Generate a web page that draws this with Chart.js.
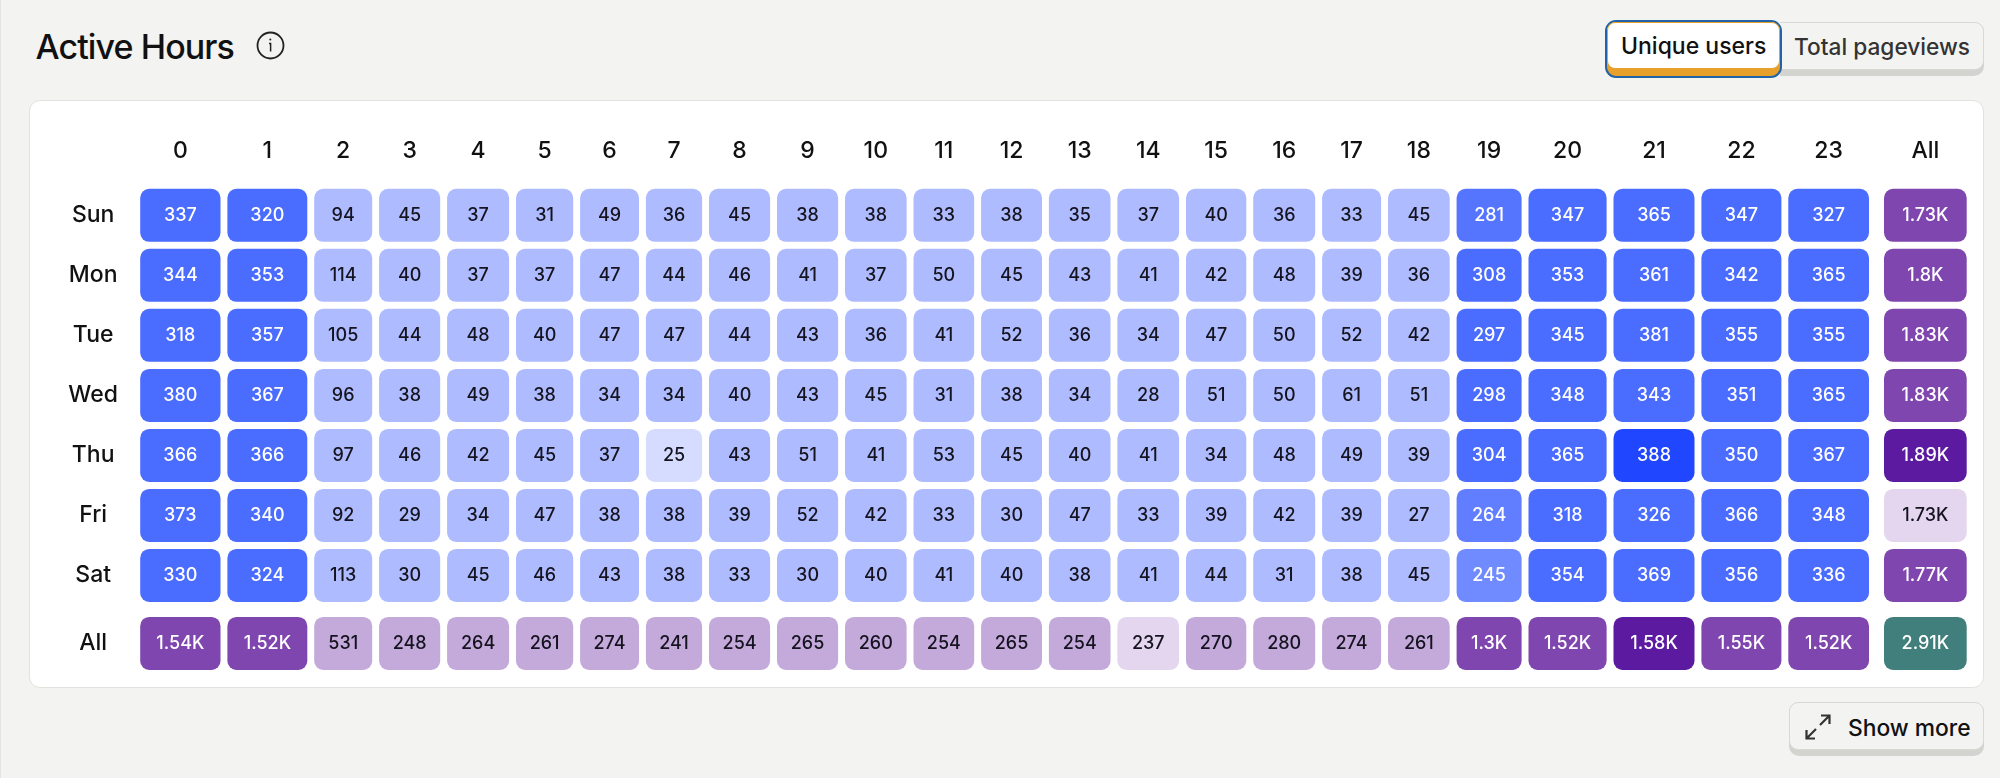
<!DOCTYPE html>
<html>
<head>
<meta charset="utf-8">
<title>Active Hours</title>
<script src="https://cdn.jsdelivr.net/npm/chart.js@4/dist/chart.umd.js"></script>
<style>
  html, body { margin: 0; padding: 0; width: 2000px; height: 778px; overflow: hidden; background: #f3f3f1; font-family: Inter, sans-serif; color: #111; }
  #edge { position: absolute; left: 0; top: 0; width: 1px; height: 778px; background: #e4e4e2; }
  #title { position: absolute; left: 35.5px; top: 25px; font-size: 34px; line-height: 44px; font-weight: 500; letter-spacing: -0.9px; }
  #info { position: absolute; left: 256px; top: 31px; }
  #card { position: absolute; left: 29px; top: 100px; width: 1955px; height: 588px; background: #fff; border: 1px solid #e2e2de; border-radius: 11px; box-sizing: border-box; }
  #chart { position: absolute; left: 30px; top: 100px; }
  .btn { position: absolute; box-sizing: border-box; }
  .btn .face { box-sizing: border-box; height: 48px; display: flex; align-items: center; font-size: 23px; font-weight: 500; }
  #unique { left: 1605px; top: 20px; width: 177px; height: 58px; border: 2px solid #2263a8; border-radius: 11px; background: #e7a02c; z-index: 2; }
  #unique .face { background: #fff; border: 1px solid #e7a02c; border-radius: 8px; height: 47px; padding-left: 13px; }
  #pageviews { left: 1780px; top: 22px; width: 204px; height: 54px; background: #d3d3d0; border-radius: 0 10px 10px 0; }
  #pageviews .face { background: #f3f3f1; border: 1px solid #d8d8d5; border-left: 0; border-radius: 0 9px 9px 0; padding-left: 14px; color: #333; font-size: 22.7px; }
  #more { left: 1789px; top: 702px; width: 195px; height: 54px; background: #d3d3d0; border-radius: 10px; }
  #more .face { background: #f3f3f1; border: 1px solid #d8d8d5; border-radius: 9px; padding-left: 58px; font-size: 22.8px; padding-top: 2px; }
  #more svg { position: absolute; left: 15px; top: 11px; }
</style>
</head>
<body>
<div id="edge"></div>
<div id="title">Active Hours</div>
<svg id="info" width="29" height="29" viewBox="0 0 29 29" fill="none" stroke="#222">
  <circle cx="14.5" cy="14.5" r="13" stroke-width="1.8"/>
  <path d="M13 12.5h1.6v8" stroke-width="1.5"/>
  <circle cx="14.3" cy="8.6" r="1" fill="#222" stroke="none"/>
</svg>
<div id="card"></div>
<canvas id="chart" width="1954" height="615"></canvas>
<div class="btn" id="unique"><div class="face">Unique users</div></div>
<div class="btn" id="pageviews"><div class="face">Total pageviews</div></div>
<div class="btn" id="more">
  <div class="face">Show more</div>
  <svg width="28" height="28" viewBox="0 0 28 28" fill="none" stroke="#333" stroke-width="2.2">
    <path d="M16 12L25 3M17 2.5h8.5V11M12 16L3 25M2.5 17v8.5H11"/>
  </svg>
</div>

<script>
// Dados do heatmap
const days = ['Sun', 'Mon', 'Tue', 'Wed', 'Thu', 'Fri', 'Sat', 'All'];
const hours = ['0', '1', '2', '3', '4', '5', '6', '7', '8', '9', '10', '11', '12', '13', '14', '15', '16', '17', '18', '19', '20', '21', '22', '23', 'All'];

const sunValues = [337, 320, 94, 45, 37, 31, 49, 36, 45, 38, 38, 33, 38, 35, 37, 40, 36, 33, 45, 281, 347, 365, 347, 327];
const monValues = [344, 353, 114, 40, 37, 37, 47, 44, 46, 41, 37, 50, 45, 43, 41, 42, 48, 39, 36, 308, 353, 361, 342, 365];
const tueValues = [318, 357, 105, 44, 48, 40, 47, 47, 44, 43, 36, 41, 52, 36, 34, 47, 50, 52, 42, 297, 345, 381, 355, 355];
const wedValues = [380, 367, 96, 38, 49, 38, 34, 34, 40, 43, 45, 31, 38, 34, 28, 51, 50, 61, 51, 298, 348, 343, 351, 365];
const thuValues = [366, 366, 97, 46, 42, 45, 37, 25, 43, 51, 41, 53, 45, 40, 41, 34, 48, 49, 39, 304, 365, 388, 350, 367];
const friValues = [373, 340, 92, 29, 34, 47, 38, 38, 39, 52, 42, 33, 30, 47, 33, 39, 42, 39, 27, 264, 318, 326, 366, 348];
const satValues = [330, 324, 113, 30, 45, 46, 43, 38, 33, 30, 40, 41, 40, 38, 41, 44, 31, 38, 45, 245, 354, 369, 356, 336];
const allByHour = [1540, 1520, 531, 248, 264, 261, 274, 241, 254, 265, 260, 254, 265, 254, 237, 270, 280, 274, 261, 1300, 1520, 1580, 1550, 1520];
const allByDay = [1730, 1800, 1830, 1830, 1890, 1726, 1770];
const grandTotal = 2910;
const dayRows = [sunValues, monValues, tueValues, wedValues, thuValues, friValues, satValues];

// Layout: largura de cada coluna (varia como na tabela original) e posição das linhas
const columnWidths = [80.3, 79.9, 58, 61.1, 62, 57.2, 58.9, 56.2, 61.1, 61.1, 61.6, 60.7, 60.9, 61.6, 61.7, 60.3, 62, 59, 61.7, 65, 78.1, 81, 80, 80.7, 82.7];
const columnGap = 6.9;
const allColumnGap = 15;
const firstColumnAt = 10.2;
const rowPositions = [0, 1, 2, 3, 4, 5, 6, 7.133];
const rowThickness = 53;

const columnBands = [];
let cursor = firstColumnAt;
columnWidths.forEach((w, i) => {
  columnBands.push([cursor, cursor + w]);
  cursor += w + (i === columnWidths.length - 2 ? allColumnGap : columnGap);
});

function formatCell(v) {
  return v >= 1000 ? `${+(v / 1000).toFixed(2)}K` : String(v);
}

// Cor do azul: mínimo e máximo têm tom próprio
const blueMin = Math.min(...dayRows.flat());
const blueMax = Math.max(...dayRows.flat());
function blueColor(v) {
  if (v === blueMin) return '#d6dcff';
  if (v === blueMax) return '#2046ff';
  if (v < 200) return '#aebcff';
  if (v < 255) return '#708bff';
  if (v < 275) return '#607eff';
  if (v < 290) return '#5575ff';
  return '#4a6cff';
}
function purpleColor(v, group) {
  if (v === Math.min(...group)) return '#e3d6ee';
  if (v === Math.max(...group)) return '#5b1aa0';
  if (v < 1000) return '#c4a9db';
  return '#7e46ae';
}

const cells = [];
dayRows.forEach((row, r) => {
  row.forEach((v, c) => cells.push({ x: columnBands[c], y: rowPositions[r], value: v, color: blueColor(v) }));
  cells.push({ x: columnBands[24], y: rowPositions[r], value: allByDay[r], color: purpleColor(allByDay[r], allByDay) });
});
allByHour.forEach((v, c) => cells.push({ x: columnBands[c], y: rowPositions[7], value: v, color: purpleColor(v, allByHour) }));
cells.push({ x: columnBands[24], y: rowPositions[7], value: grandTotal, color: '#417f7c' });

// Escreve o valor no centro de cada célula
const cellLabels = {
  id: 'cellLabels',
  afterDatasetsDraw(chart) {
    const { ctx } = chart;
    ctx.save();
    ctx.font = '500 18px Inter';
    ctx.textAlign = 'center';
    ctx.textBaseline = 'middle';
    chart.getDatasetMeta(0).data.forEach((bar, i) => {
      const cell = cells[i];
      const p = bar.getCenterPoint();
      const light = ['#aebcff', '#d6dcff', '#c4a9db', '#e3d6ee'].includes(cell.color);
      ctx.fillStyle = light ? '#15131f' : '#ffffff';
      ctx.fillText(formatCell(cell.value), p.x, p.y);
    });
    ctx.restore();
  }
};

new Chart(document.getElementById('chart').getContext('2d'), {
  type: 'bar',
  data: {
    datasets: [{
      data: cells,
      backgroundColor: cells.map(c => c.color),
      borderWidth: 0,
      borderColor: 'transparent',
      inflateAmount: 0,
      borderRadius: 9,
      borderSkipped: false,
      barThickness: rowThickness
    }]
  },
  plugins: [cellLabels],
  options: {
    indexAxis: 'y',
    responsive: false,
    devicePixelRatio: 1,
    animation: false,
    layout: { autoPadding: false },
    plugins: { legend: { display: false }, tooltip: { enabled: false } },
    scales: {
      x: {
        type: 'linear',
        position: 'top',
        bounds: 'data',
        min: 0,
        max: 1854,
        grid: { display: false, drawTicks: false },
        border: { display: false },
        afterFit: axis => { axis.height = 61; },
        afterBuildTicks: axis => { axis.ticks = columnBands.map(b => ({ value: (b[0] + b[1]) / 2 })); },
        ticks: {
          autoSkip: false,
          maxRotation: 0,
          padding: -4,
          color: '#111',
          font: { family: 'Inter', size: 23, weight: '500' },
          callback: (v, i) => hours[i]
        }
      },
      y: {
        type: 'linear',
        position: 'left',
        reverse: true,
        offset: false,
        bounds: 'data',
        min: -0.905,
        max: 7.895,
        grid: { display: false, drawTicks: false },
        border: { display: false },
        afterFit: axis => { axis.width = 100; },
        afterBuildTicks: axis => { axis.ticks = rowPositions.map(p => ({ value: p })); },
        ticks: {
          autoSkip: false,
          crossAlign: 'center',
          padding: 12,
          color: '#111',
          font: { family: 'Inter', size: 23, weight: '500' },
          callback: (v, i) => days[i]
        }
      }
    }
  }
});
</script>
</body>
</html>
